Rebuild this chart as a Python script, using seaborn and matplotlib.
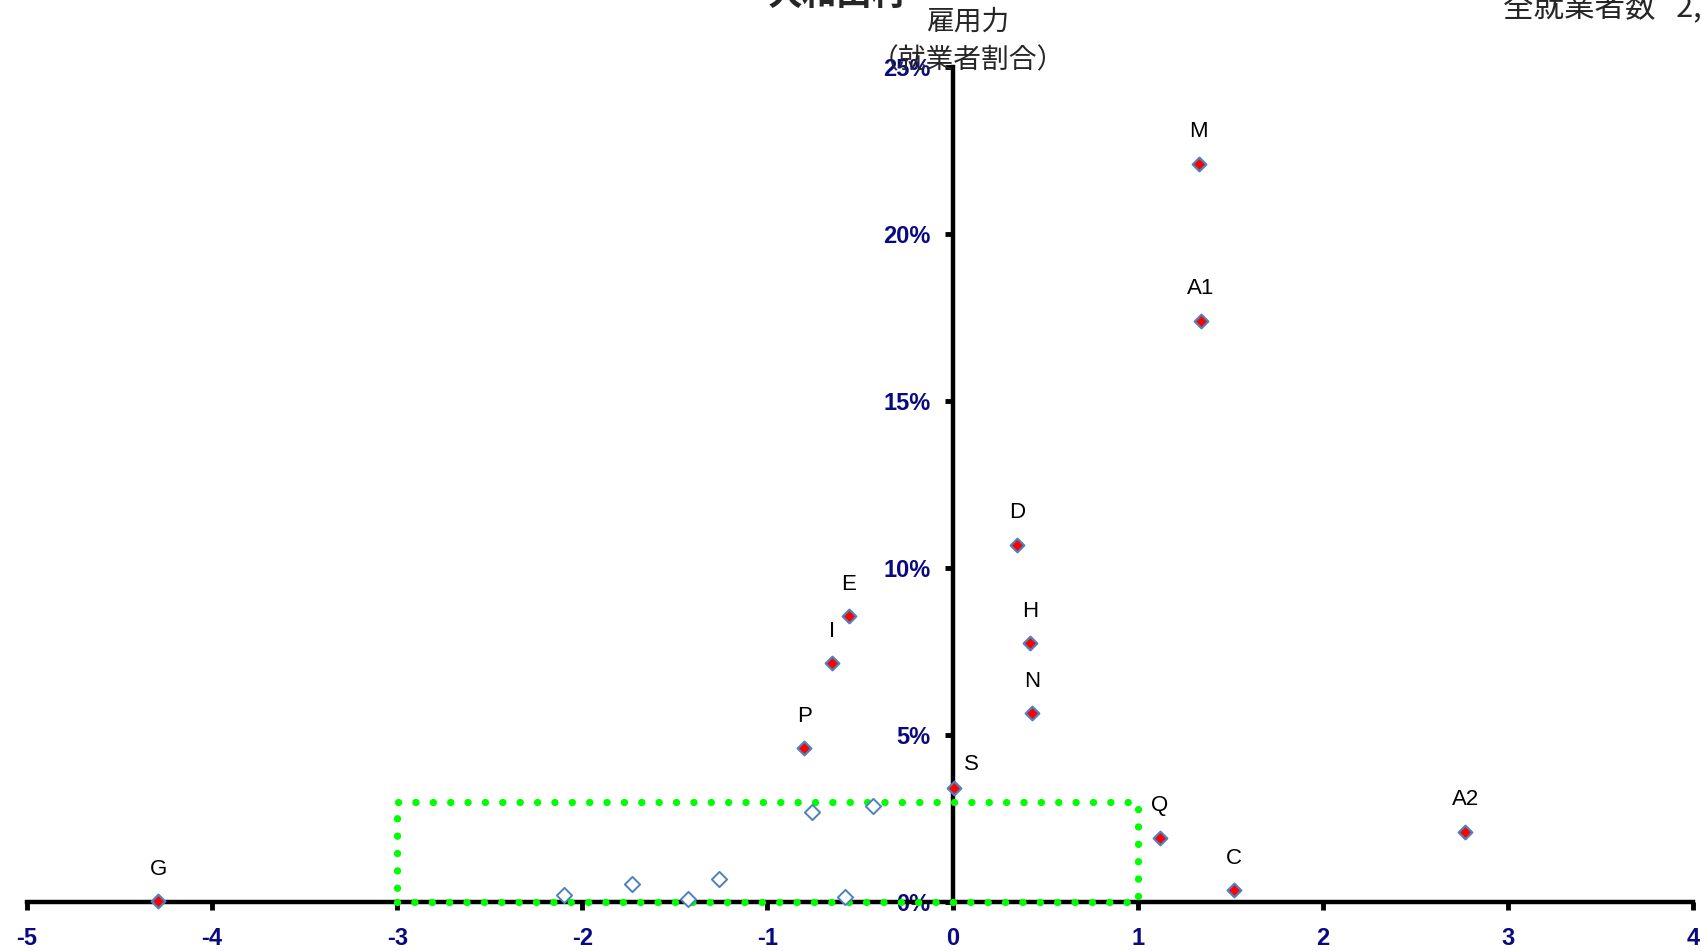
import matplotlib
matplotlib.use("Agg")
import matplotlib.pyplot as plt
import seaborn as sns
import pandas as pd
from matplotlib.patches import Rectangle
from matplotlib.ticker import FixedLocator, FuncFormatter

# ---- data ----
labeled_codes = ["M", "A1", "D", "H", "N", "E", "I", "P", "S", "Q", "A2", "C", "G"]
labeled_x = [1.33, 1.34, 0.35, 0.42, 0.43, -0.56, -0.65, -0.80, 0.01, 1.12, 2.77, 1.52, -4.29]
labeled_y = [22.1, 17.4, 10.7, 7.75, 5.65, 8.55, 7.15, 4.6, 3.4, 1.92, 2.1, 0.36, 0.03]

other_x = [-0.76, -0.43, -2.10, -1.73, -1.43, -1.26, -0.58]
other_y = [2.70, 2.86, 0.20, 0.55, 0.10, 0.68, 0.16]

box_x = [-3, 1]
box_y = [0, 3]

x_ticks = [-5, -4, -3, -2, -1, 0, 1, 2, 3, 4]
y_ticks = [0, 5, 10, 15, 20, 25]

title_text = "大和田村"
total_text = "全就業者数   2,345人"
ylabel_line1 = "雇用力"
ylabel_line2 = "（就業者割合）"

# ---- styling ----
sns.set_style("white")
plt.rcParams["font.family"] = ["Noto Sans CJK JP", "DejaVu Sans"]

df_lab = pd.DataFrame({"x": labeled_x, "y": labeled_y, "code": labeled_codes})
df_oth = pd.DataFrame({"x": other_x, "y": other_y})

fig = plt.figure(figsize=(17.02, 9.51), dpi=100)
ax = fig.add_axes([27 / 1702, 1 - 902 / 951, (1693 - 27) / 1702, (902 - 67) / 951])

# green dotted rectangle
rect = Rectangle((box_x[0], box_y[0]), box_x[1] - box_x[0], box_y[1] - box_y[0],
                 fill=False, edgecolor="#00FF00", linewidth=5.3,
                 linestyle=(0, (0.01, 2.35)), capstyle="round", zorder=3, clip_on=False)
ax.add_patch(rect)

sns.scatterplot(data=df_oth, x="x", y="y", ax=ax, marker="D", s=60,
                facecolor="white", edgecolor="#4F81BD", linewidth=1.4,
                zorder=4, clip_on=False, legend=False)
sns.scatterplot(data=df_lab, x="x", y="y", ax=ax, marker="D", s=48,
                facecolor="#FF0000", edgecolor="#4F81BD", linewidth=1.6,
                zorder=5, clip_on=False, legend=False)

for _, r in df_lab.iterrows():
    off = (12, 17) if r["code"] == "S" else (0, 23)
    ax.annotate(r["code"], (r["x"], r["y"]), xytext=off, textcoords="offset points",
                ha="center", va="center", fontsize=16, color="black",
                family=["Liberation Sans", "DejaVu Sans"], zorder=6)

ax.set_xlim(x_ticks[0], x_ticks[-1])
ax.set_ylim(y_ticks[0], y_ticks[-1])

ax.spines["left"].set_position(("data", 0))
ax.spines["bottom"].set_position(("data", 0))
for s in ["top", "right"]:
    ax.spines[s].set_visible(False)
for s in ["left", "bottom"]:
    ax.spines[s].set_linewidth(3.2)
    ax.spines[s].set_color("black")
    ax.spines[s].set_zorder(2.5)

ax.xaxis.set_major_locator(FixedLocator(x_ticks))
ax.yaxis.set_major_locator(FixedLocator(y_ticks))
ax.yaxis.set_major_formatter(FuncFormatter(lambda v, p: f"{v:.0f}%"))
ax.xaxis.set_major_formatter(FuncFormatter(lambda v, p: f"{v:.0f}"))
ax.tick_params(axis="x", direction="out", length=6, width=3.5, color="black",
               pad=12, labelsize=17, labelcolor="#0A0A80", bottom=True)
ax.tick_params(axis="y", direction="out", length=6, width=3.5, color="black",
               pad=10, labelsize=17, labelcolor="#0A0A80", left=True)
for lab in ax.get_xticklabels() + ax.get_yticklabels():
    lab.set_fontweight("bold")
    lab.set_family(["Liberation Sans", "DejaVu Sans"])
ax.set_xlabel("")
ax.set_ylabel("")
ax.grid(False)

# texts
fig.text(968 / 1702, 1 - 22 / 951, ylabel_line1, ha="center", va="center", fontsize=20)
fig.text(968 / 1702, 1 - 60 / 951, ylabel_line2, ha="center", va="center", fontsize=20)
fig.text(768 / 1702, 1 - 5 / 951, title_text, ha="left", va="baseline",
         fontsize=25, fontweight="bold")
fig.text(1503 / 1702, 1 - 16 / 951, total_text, ha="left", va="baseline", fontsize=22)

fig.savefig("out.png", dpi=100)
